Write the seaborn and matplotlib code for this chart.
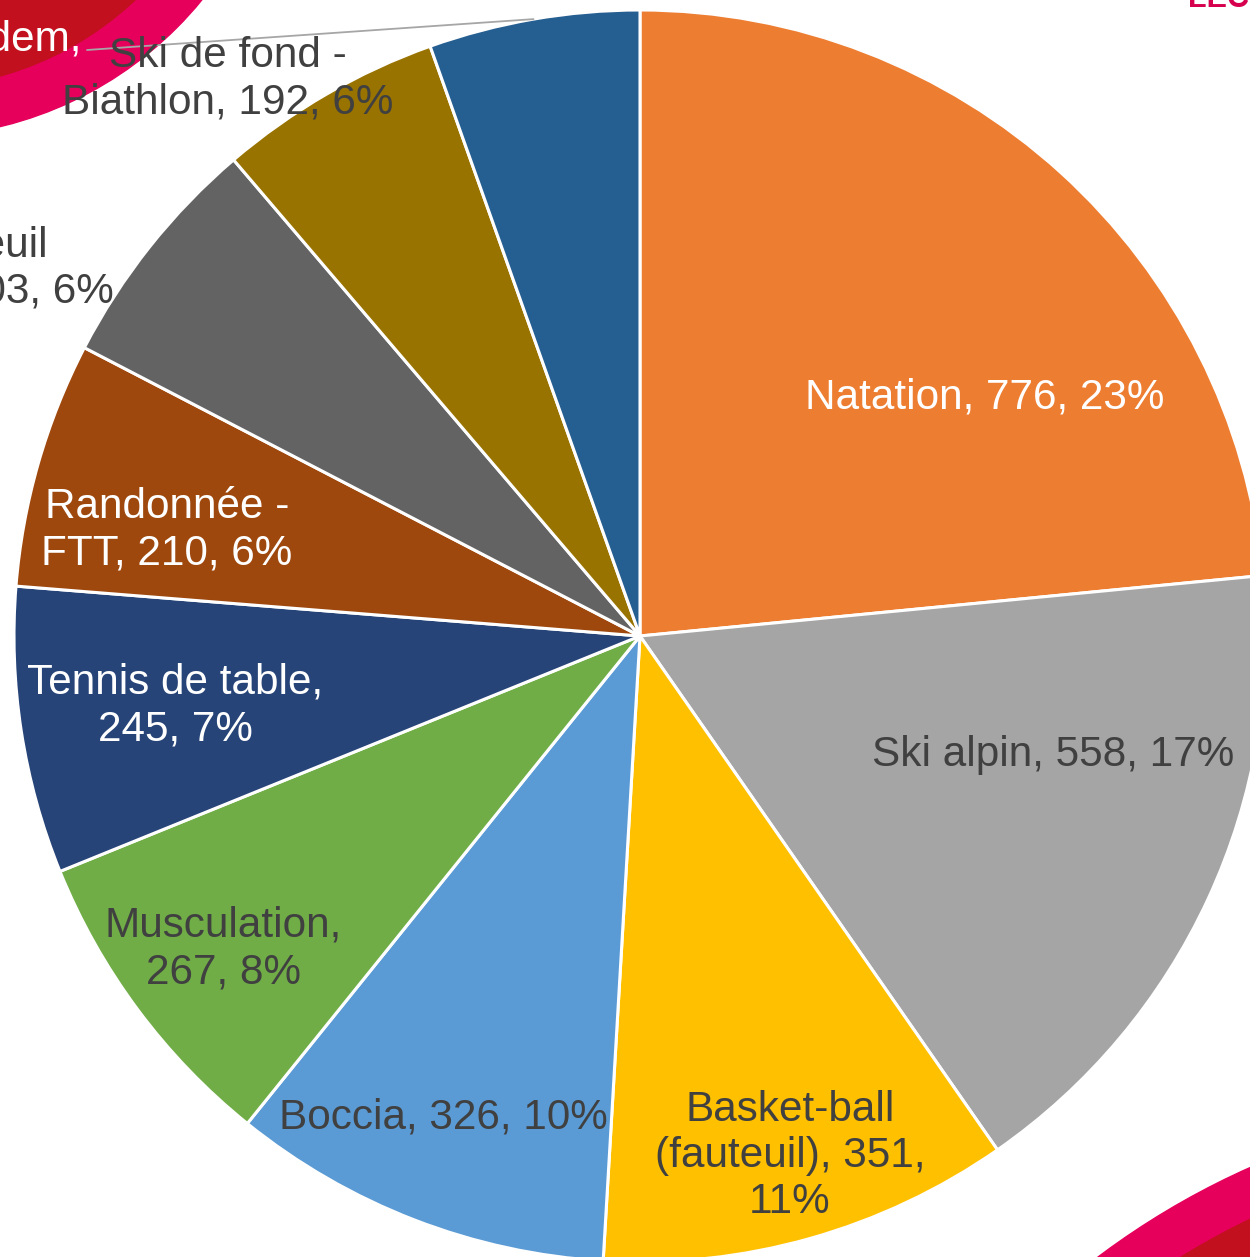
import textwrap
import numpy as np
import matplotlib
matplotlib.use("Agg")
import matplotlib.pyplot as plt
import seaborn as sns
from matplotlib.patches import Circle

# Données : licenciés par discipline (ordre du graphique, sens horaire depuis midi)
categories = ["Natation", "Ski alpin", "Basket-ball (fauteuil)", "Boccia", "Musculation",
              "Tennis de table", "Randonnée - FTT", "Tennis fauteuil (handisport)",
              "Ski de fond - Biathlon", "Cyclisme Tandem"]
valeurs = [776, 558, 351, 326, 267, 245, 210, 203, 192, 180]
couleurs = ["#ED7D31", "#A5A5A5", "#FFC000", "#5B9BD5", "#70AD47",
            "#264478", "#9E480E", "#636363", "#997300", "#255E91"]

# mise en page (pixels de l'image, y vers le bas)
W, H = 1250, 1257
centre = (640, 636)
rayon = 626
largeur_ligne = [40, 40, 16, 40, 16, 16, 12, 21, 17, 16]
pos_labels = [(985, 398), (1053, 755), (790, 1156), (443, 1118), (223, 949),
              (175, 706), (167, 530), (114, 269), (228, 79), (81, 63)]
align_labels = ["center"] * 7 + ["right", "center", "right"]
couleur_txt = ["white", "#404040", "#404040", "#404040", "#404040",
               "white", "white", "#404040", "#404040", "white"]

sns.set_theme(style="white")
plt.rcParams['font.family'] = ['Liberation Sans', 'DejaVu Sans']

fig = plt.figure(figsize=(W / 100, H / 100), dpi=100)
ax = fig.add_axes([0, 0, 1, 1])

# bandeaux décoratifs (coins)
ax.add_patch(Circle((-87, H + 236), 373, color="#E6005C", zorder=0))
ax.add_patch(Circle((-87, H + 236), 324, color="#C3101E", zorder=0))
ax.add_patch(Circle((1568, H - 1882), 782, color="#E6005C", zorder=0))
ax.add_patch(Circle((1568, H - 1882), 735, color="#C3101E", zorder=0))

wedges, _ = ax.pie(valeurs, colors=couleurs, startangle=90, counterclock=False,
                   radius=rayon, center=(centre[0], H - centre[1]),
                   wedgeprops=dict(edgecolor="white", linewidth=2.2))

total = sum(valeurs)
for i, (cat, val) in enumerate(zip(categories, valeurs)):
    pct = round(100 * val / total)
    txt = "\n".join(textwrap.wrap(f"{cat}, {val}, {pct}%", largeur_ligne[i]))
    x, y = pos_labels[i]
    ax.text(x, H - y, txt, ha=align_labels[i], va="center", multialignment="center",
            fontsize=30.4, color=couleur_txt[i], zorder=5)

# ligne de rappel vers la part "Tandem"
w = wedges[-1]
ang = np.deg2rad((w.theta1 + w.theta2) / 2)
ax.plot([87, centre[0] + rayon * np.cos(ang)],
        [H - 50, H - centre[1] + rayon * np.sin(ang)],
        color="#A6A6A6", lw=1.3, zorder=4)

# titre coupé en haut à droite
ax.text(1188, H - 7, "LEC", fontsize=22, fontweight="bold", color="#D6004E",
        ha="left", va="baseline")

ax.set_xlim(0, W)
ax.set_ylim(0, H)
ax.set_aspect("equal")
ax.axis("off")

fig.savefig("out.png", dpi=100)
